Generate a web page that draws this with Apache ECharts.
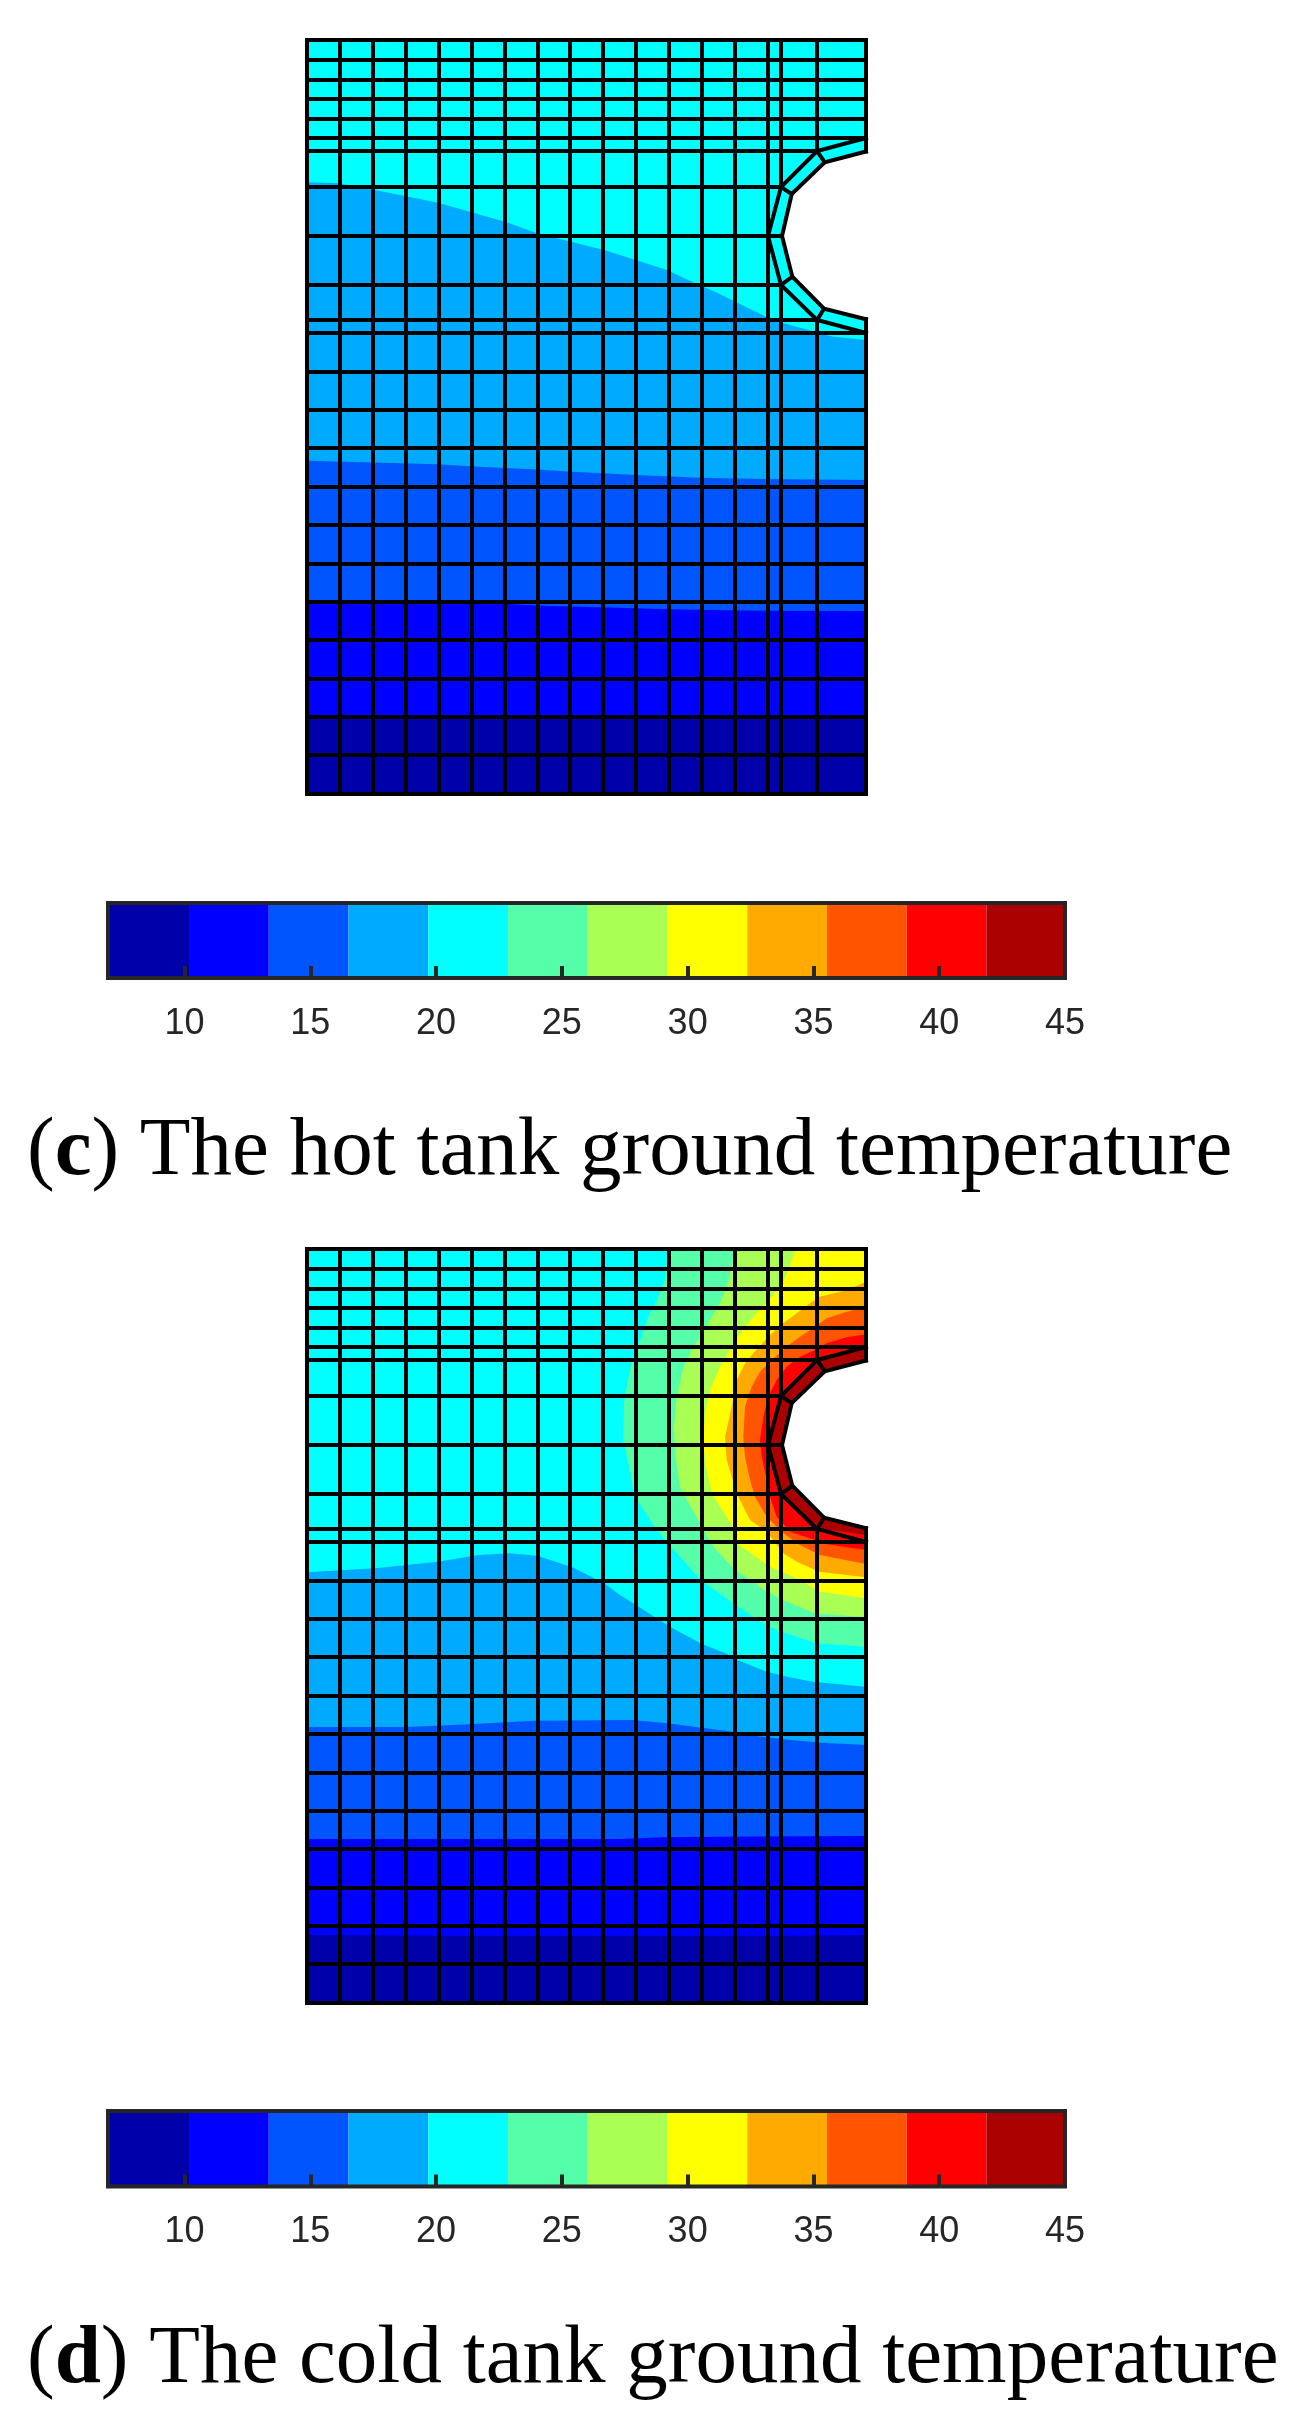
<!DOCTYPE html>
<html>
<head>
<meta charset="utf-8">
<title>Ground temperature</title>
<script src="https://cdn.jsdelivr.net/npm/echarts@6/dist/echarts.min.js"></script>
<style>
  html, body { margin: 0; padding: 0; background: #fff; }
  #main { width: 1295px; height: 2428px; }
</style>
</head>
<body>
<div id="main"></div>
<script>
// mesh node positions (same mesh in both panels)
var meshX = [0, 33, 66, 99, 132, 165, 198, 231, 263, 296, 329, 362, 395, 428, 461, 474, 510, 559];
var meshY = [0, 20, 40, 59, 79, 98, 111, 147, 196, 245, 280, 293, 332, 370, 408, 447, 485, 524, 562, 600, 639, 677, 715, 754];
// nodes on the tank wall, hole side and soil side
var wallOuter = [[559, 111.5], [517.7, 122.3], [484.7, 154], [475, 196], [485.3, 236.7], [517, 268.7], [559, 279.3]];
var wallInner = [[559, 98], [510, 111], [474, 147], [461, 196], [474, 245], [510, 280], [559, 293]];

// (c) hot tank, contour lines from top to bottom
var hotLine20 = [[0, 142.3], [32, 143.3], [68, 150], [131, 162.7], [198, 181.7], [230, 193.3], [250, 198.3], [297, 210], [360, 230], [388, 243.3], [408, 251.7], [459, 276.7], [476, 283], [498, 289], [526, 296.7], [559, 300]];
var hotLine16 = [[0, 420.7], [131, 424.3], [171, 426.7], [226, 429.3], [265, 431.7], [329, 435], [392, 437.7], [459, 439], [559, 440]];
var hotLine13 = [[0, 560], [166, 562], [234, 565.7], [293, 567.3], [360, 569.3], [451, 570.7], [559, 571]];
var hotLine10 = [[0, 674.5], [50, 675], [559, 677]];

// (d) cold tank, lower contour lines
var coldLine20 = [[0, 323.3], [68, 319.3], [131, 312.7], [171, 306], [202, 304.3], [230, 306.7], [265.5, 318.3], [297, 334.3], [313, 346], [326, 354.3], [346, 367], [363, 377.7], [393, 394], [420, 405], [430, 411], [460, 422.7], [480, 427.7], [506, 432.7], [559, 437.7]];
var coldLine16 = [[0, 478], [99, 478], [163, 475.3], [226, 471.7], [325, 471], [360, 474.3], [420, 482], [449, 487], [483, 491], [514.5, 493.7], [559, 496]];
var coldLine13 = [[0, 590], [313, 590], [356, 588.3], [412, 587.7], [559, 587]];
var coldLine10 = [[0, 686], [130, 686.7], [480, 686.7], [559, 686]];

// (d) cold tank, warm contours around the wall
var warmLine23 = [[361.3, 0], [358, 31], [349.7, 51], [341.3, 67.7], [333, 91], [324.7, 112.7], [317, 151], [316.3, 191], [319.7, 207.7], [328, 247.7], [346.3, 276], [358, 291], [393, 330.3], [426.3, 354.3], [453, 372.7], [469.7, 381], [489.7, 387.7], [509.7, 394.3], [559, 397.7], [559, 0]];
var warmLine26 = [[428, 0], [421.3, 32.7], [413, 54.3], [403, 71], [394.7, 86], [384.7, 101], [376.3, 119.3], [369.7, 147.7], [367, 177.7], [368, 204.3], [373, 237.7], [378, 247.7], [393, 274.3], [406.3, 297.7], [426.3, 319.3], [459.7, 342.7], [479.7, 352.7], [508, 364.3], [559, 368.3], [559, 0]];
var warmLine29 = [[488.7, 0], [481.3, 21], [476.3, 32.7], [464.7, 47.7], [446.3, 67.7], [433, 84.3], [421.3, 104.3], [413, 117.7], [403, 141], [398, 164.3], [396.3, 194.3], [399, 217.7], [404.7, 244.3], [406.3, 247], [424.7, 276], [429.7, 294.3], [463, 317.7], [489.7, 329.3], [513, 342.7], [559, 349.3], [559, 0]];
var warmLine32 = [[559, 32.7], [539.7, 41], [513, 47.7], [503, 54.3], [489.7, 64.3], [476.3, 74.3], [463, 86], [446.3, 104.3], [438, 114.3], [429.7, 131], [424.7, 157.7], [418, 187.7], [419.7, 211], [424.7, 227.7], [431.3, 247.7], [443, 271], [459.7, 282.7], [476.3, 304.3], [489.7, 312.7], [508, 321], [512, 322.7], [559, 328.3]];
var warmLine35 = [[559, 57.7], [539.7, 62.7], [519.7, 69.3], [508, 77.7], [493, 87.7], [479.7, 97.7], [463, 112.7], [453, 122.7], [444.7, 137.7], [438, 157.7], [436.3, 187.7], [438, 207.7], [443, 231], [448, 247.7], [459.7, 267.7], [476.3, 284.3], [493, 296], [513, 306], [559, 315]];
var warmLine38 = [[559, 85.3], [539.7, 88.3], [519.7, 94.3], [508, 101], [493, 107.7], [479.7, 117.7], [469.7, 131], [461.3, 147.7], [456.3, 167.7], [453, 191], [454.7, 207.7], [459.7, 231], [463, 247.7], [469.7, 267.7], [483, 282.7], [508, 291], [513, 294.3], [559, 301]];
var warmLine42 = [[559, 98], [510, 111], [474, 147], [461, 196], [474, 245], [510, 279.3], [559, 286], [559, 279.3], [517, 268.7], [485.3, 236.7], [475, 196], [484.7, 154], [517.7, 122.3], [559, 111.5]];

// colour bar
var barEdges = [6.96, 10.18, 13.35, 16.52, 19.69, 22.86, 26.03, 29.2, 32.37, 35.54, 38.71, 41.88, 45];
var barColors = ['#0000AA', '#0000FF', '#0055FF', '#00AAFF', '#00FFFF', '#55FFAA', '#AAFF55', '#FFFF00', '#FFAA00', '#FF5500', '#FF0000', '#AA0000'];
var barTicks = [10, 15, 20, 25, 30, 35, 40];
var barLabels = [10, 15, 20, 25, 30, 35, 40, 45];

var captionC = ' The hot tank ground temperature';
var captionD = ' The cold tank ground temperature';

var myChart = echarts.init(document.getElementById('main'), null, { renderer: 'canvas' });

// close a contour along the bottom of the model
function below(line) {
    return line.concat([[559, 754], [0, 754]]);
}

var domainBox = [[0, 0], [559, 0], [559, 754], [0, 754]];
var holeShape = wallOuter.slice();

var hotShapes = [
    { pts: domainBox, color: barColors[4] },
    { pts: below(hotLine20), color: barColors[3] },
    { pts: below(hotLine16), color: barColors[2] },
    { pts: below(hotLine13), color: barColors[1] },
    { pts: below(hotLine10), color: barColors[0] },
    { pts: holeShape, color: '#ffffff' }
];

var coldShapes = [
    { pts: domainBox, color: barColors[4] },
    { pts: below(coldLine20), color: barColors[3] },
    { pts: below(coldLine16), color: barColors[2] },
    { pts: below(coldLine13), color: barColors[1] },
    { pts: below(coldLine10), color: barColors[0] },
    { pts: warmLine23, color: barColors[5] },
    { pts: warmLine26, color: barColors[6] },
    { pts: warmLine29, color: barColors[7] },
    { pts: warmLine32, color: barColors[8] },
    { pts: warmLine35, color: barColors[9] },
    { pts: warmLine38, color: barColors[10] },
    { pts: warmLine42, color: barColors[11] },
    { pts: holeShape, color: '#ffffff' }
];

// mesh lines stop at the wall
var meshLines = [];
meshX.forEach(function (x) {
    if (x == 474) {
        meshLines.push([[x, 0], [x, 147]], [[x, 245], [x, 754]]);
    } else if (x == 510) {
        meshLines.push([[x, 0], [x, 111]], [[x, 280], [x, 754]]);
    } else if (x == 559) {
        meshLines.push([[x, 0], [x, 111.5]], [[x, 279.3], [x, 754]]);
    } else {
        meshLines.push([[x, 0], [x, 754]]);
    }
});
var rowEnds = { 111: 510, 147: 474, 196: 461, 245: 474, 280: 510 };
meshY.forEach(function (y) {
    meshLines.push([[0, y], [rowEnds[y] || 559, y]]);
});
meshLines.push(wallOuter, wallInner);
wallOuter.forEach(function (p, i) {
    if (i > 0 && i < 6) {
        meshLines.push([p, wallInner[i]]);
    }
});

function shapeSeries(shapes, axisIndex) {
    return {
        type: 'custom',
        xAxisIndex: axisIndex,
        yAxisIndex: axisIndex,
        clip: false,
        silent: true,
        z: 2,
        data: shapes.map(function (s, i) { return [i]; }),
        renderItem: function (params, api) {
            var s = shapes[api.value(0)];
            return {
                type: 'polygon',
                shape: { points: s.pts.map(function (p) { return api.coord(p); }) },
                style: { fill: s.color }
            };
        }
    };
}

function meshSeries(axisIndex) {
    return {
        type: 'custom',
        xAxisIndex: axisIndex,
        yAxisIndex: axisIndex,
        clip: false,
        silent: true,
        z: 3,
        data: meshLines.map(function (s, i) { return [i]; }),
        renderItem: function (params, api) {
            var line = meshLines[api.value(0)];
            return {
                type: 'polyline',
                shape: { points: line.map(function (p) { return api.coord(p); }) },
                style: { fill: 'none', stroke: '#000', lineWidth: 4, lineCap: 'square', lineJoin: 'miter' }
            };
        }
    };
}

function barSeries(axisIndex) {
    return {
        type: 'custom',
        xAxisIndex: axisIndex,
        yAxisIndex: axisIndex,
        silent: true,
        z: 2,
        data: barColors.map(function (c, i) { return [barEdges[i], barEdges[i + 1], i]; }),
        encode: { x: [0, 1] },
        renderItem: function (params, api) {
            var a = api.coord([api.value(0), 1]);
            var b = api.coord([api.value(1), 0]);
            return {
                type: 'rect',
                shape: { x: a[0], y: a[1], width: b[0] - a[0], height: b[1] - a[1] },
                style: { fill: barColors[api.value(2)] }
            };
        }
    };
}

function meshXAxis(gridIndex) {
    return { gridIndex: gridIndex, type: 'value', min: 0, max: 559, show: false };
}
function meshYAxis(gridIndex) {
    return { gridIndex: gridIndex, type: 'value', min: 0, max: 754, inverse: true, show: false };
}
function barXAxis(gridIndex) {
    return {
        gridIndex: gridIndex,
        type: 'value',
        min: 6.96,
        max: 45,
        z: 11,
        axisLine: { show: false },
        splitLine: { show: false },
        axisTick: {
            show: true,
            inside: true,
            length: 12,
            customValues: barTicks,
            lineStyle: { color: '#262626', width: 4 }
        },
        axisLabel: {
            show: true,
            customValues: barLabels,
            margin: 28,
            color: '#262626',
            fontFamily: 'Liberation Sans',
            fontSize: 36
        }
    };
}
function barYAxis(gridIndex) {
    return { gridIndex: gridIndex, type: 'value', min: 0, max: 1, show: false };
}
function caption(letter, text, top) {
    return {
        left: 22,
        top: top,
        text: '{p|(}{b|' + letter + '}{p|)' + text + '}',
        textStyle: {
            rich: {
                p: { fontFamily: 'Liberation Serif', fontSize: 83, fontWeight: 'normal', color: '#000' },
                b: { fontFamily: 'Liberation Serif', fontSize: 83, fontWeight: 'bold', color: '#000' }
            }
        }
    };
}

var option = {
    animation: false,
    backgroundColor: '#fff',
    title: [caption('c', captionC, 1106), caption('d', captionD, 2314)],
    grid: [
        { left: 307, top: 40, width: 559, height: 754 },
        { left: 108, top: 903, width: 957, height: 75, show: true, z: 10, borderColor: '#262626', borderWidth: 4, backgroundColor: 'transparent' },
        { left: 307, top: 1249, width: 559, height: 754 },
        { left: 108, top: 2111, width: 957, height: 75.5, show: true, z: 10, borderColor: '#262626', borderWidth: 4, backgroundColor: 'transparent' }
    ],
    xAxis: [meshXAxis(0), barXAxis(1), meshXAxis(2), barXAxis(3)],
    yAxis: [meshYAxis(0), barYAxis(1), meshYAxis(2), barYAxis(3)],
    series: [
        shapeSeries(hotShapes, 0),
        meshSeries(0),
        barSeries(1),
        shapeSeries(coldShapes, 2),
        meshSeries(2),
        barSeries(3)
    ]
};

myChart.setOption(option);
</script>
</body>
</html>
